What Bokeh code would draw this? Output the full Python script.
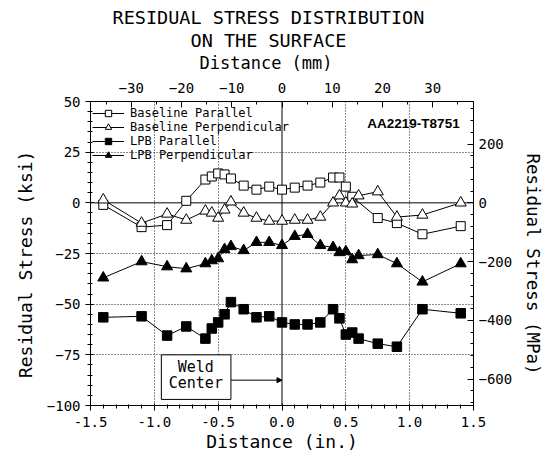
from bokeh.plotting import figure
from bokeh.models import (Range1d, LinearAxis, FixedTicker, Title, Span, Label,
                          BoxAnnotation, Arrow, NormalHead, Legend, LegendItem,
                          PrintfTickFormatter)
from bokeh.embed import file_html
from bokeh.resources import INLINE

MONO = "DejaVu Sans Mono"
NBSP = "\u00a0"

# ---------------- data (inches, ksi) ----------------
bpar_x = [-1.4, -1.1, -0.9, -0.75, -0.6, -0.55, -0.5, -0.45, -0.4, -0.3, -0.2, -0.1,
          0.0, 0.1, 0.2, 0.3, 0.4, 0.45, 0.5, 0.55, 0.75, 0.9, 1.1, 1.4]
bpar_y = [-1, -12, -11, 1, 11.5, 13, 14.5, 14, 12, 8.5, 6.5, 8,
          6.5, 7.5, 8.5, 10, 12.5, 12.5, 8, 3, -7.5, -10, -15.5, -11.5]

bperp_x = [-1.4, -1.1, -0.9, -0.75, -0.6, -0.55, -0.5, -0.45, -0.4, -0.3, -0.2, -0.1,
           0.0, 0.1, 0.2, 0.3, 0.4, 0.45, 0.5, 0.55, 0.6, 0.75, 0.9, 1.1, 1.4]
bperp_y = [1.5, -10, -5.5, -8.5, -4, -5, -7.5, -3.5, 0.5, -5, -7.5, -9,
           -9, -8.5, -8.5, -7, 0, 3.5, 0, -0.5, 3.5, 5.5, -7, -6, 0]

lpar_x = [-1.4, -1.1, -0.9, -0.75, -0.6, -0.55, -0.5, -0.45, -0.4, -0.3, -0.2, -0.1,
          0.0, 0.1, 0.2, 0.3, 0.4, 0.45, 0.5, 0.55, 0.6, 0.75, 0.9, 1.1, 1.4]
lpar_y = [-56.5, -56, -65.5, -61, -67, -62, -59, -55, -49, -52.5, -56.5, -56,
          -59, -60, -60, -59, -52.5, -57, -65, -64, -67, -69.5, -71, -52.5, -54.5]

lperp_x = [-1.4, -1.1, -0.9, -0.75, -0.6, -0.55, -0.5, -0.45, -0.4, -0.3, -0.2, -0.1,
           0.0, 0.1, 0.2, 0.3, 0.4, 0.45, 0.5, 0.55, 0.6, 0.75, 0.9, 1.1, 1.4]
lperp_y = [-37, -29, -31.5, -32.5, -30, -28.5, -27.5, -23, -21.5, -23.5, -19.5, -19.5,
           -21, -16.5, -15.5, -21, -22, -24.5, -24, -28, -26, -25.5, -30, -39, -30]

series_names = ["Baseline Parallel", "Baseline Perpendicular", "LPB Parallel", "LPB Perpendicular"]

x_ticks_in = [-1.5, -1.0, -0.5, 0.0, 0.5, 1.0, 1.5]
y_ticks_ksi = [-100, -75, -50, -25, 0, 25, 50]
x_ticks_mm = [-30, -20, -10, 0, 10, 20, 30]
y_ticks_mpa = [-600, -400, -200, 0, 200]

KSI_TO_MPA = 6.894757
IN_TO_MM = 25.4
X_MIN, X_MAX = -1.5, 1.5
Y_MIN, Y_MAX = -100, 50

# ---------------- figure ----------------
FRAME_H = 306
p = figure(width=551, height=454, x_range=Range1d(X_MIN, X_MAX), y_range=Range1d(Y_MIN, Y_MAX),
           output_backend="svg", toolbar_location=None, title=None,
           min_border_left=90, min_border_right=78, min_border_top=101, min_border_bottom=47)
p.outline_line_color = "black"
p.outline_line_width = 1
p.background_fill_color = "white"
p.border_fill_color = "white"

p.extra_x_ranges = {"mm": Range1d(X_MIN * IN_TO_MM, X_MAX * IN_TO_MM)}
p.extra_y_ranges = {"mpa": Range1d(Y_MIN * KSI_TO_MPA, Y_MAX * KSI_TO_MPA)}

def style_axis(ax, lsize="14px"):
    ax.axis_line_color = "black"
    ax.major_tick_line_color = "black"
    ax.minor_tick_line_color = "black"
    ax.major_label_text_font = MONO
    ax.major_label_text_font_size = lsize
    ax.major_label_text_color = "black"
    ax.axis_label_text_font = MONO
    ax.axis_label_text_font_style = "normal"
    ax.axis_label_text_color = "black"

# bottom axis
bx = p.xaxis[0]
bx.ticker = FixedTicker(ticks=x_ticks_in,
                        minor_ticks=[round(X_MIN + 0.1 * i, 2) for i in range(31)])
bx.formatter = PrintfTickFormatter(format="%.1f")
style_axis(bx)
bx.axis_label = "Distance (in.)"
bx.axis_label_text_font_size = "18px"
bx.major_tick_out = 5
bx.major_tick_in = 2
bx.minor_tick_out = 3
bx.minor_tick_in = 1
bx.major_label_standoff = 6
bx.axis_label_standoff = 1

# left axis
ly = p.yaxis[0]
ly.ticker = FixedTicker(ticks=y_ticks_ksi, minor_ticks=list(range(-100, 51, 5)))
style_axis(ly)
ly.axis_label = "Residual Stress (ksi)" + NBSP * 2
ly.axis_label_text_font_size = "18px"
ly.major_tick_out = 5
ly.major_tick_in = 3
ly.minor_tick_out = 3
ly.minor_tick_in = 2
ly.major_label_standoff = 5
ly.axis_label_standoff = 8

# top axis (mm)
tx = LinearAxis(x_range_name="mm",
                ticker=FixedTicker(ticks=x_ticks_mm, minor_ticks=list(range(-35, 36, 5))))
style_axis(tx)
tx.major_tick_out = 0
tx.major_tick_in = 6
tx.minor_tick_out = 0
tx.minor_tick_in = 3
tx.major_label_standoff = 9
p.add_layout(tx, "above")

# right axis (MPa)
ry = LinearAxis(y_range_name="mpa",
                ticker=FixedTicker(ticks=y_ticks_mpa, minor_ticks=list(range(-680, 345, 40))))
style_axis(ry)
ry.axis_label = NBSP * 2 + "Residual Stress (MPa)"
ry.axis_label_text_font_size = "17.5px"
ry.major_tick_out = 0
ry.major_tick_in = 6
ry.minor_tick_out = 0
ry.minor_tick_in = 3
ry.major_label_standoff = 5
ry.axis_label_standoff = 8
p.add_layout(ry, "right")

# titles (added nearest-first)
def mk_title(text, size, offset, standoff):
    return Title(text=text, align="left", offset=offset, text_font=MONO,
                 text_font_size=size, text_font_style="normal", text_color="black",
                 standoff=standoff)

p.add_layout(mk_title(" ", "1px", 0, 4), "above")  # small spacer
p.add_layout(mk_title("Distance (mm)", "17px", 109, 0), "above")
p.add_layout(mk_title("ON THE SURFACE", "18.5px", 100, 0), "above")
p.add_layout(mk_title("RESIDUAL STRESS DISTRIBUTION", "18.5px", 22, 0), "above")

# grid
p.xgrid.ticker = FixedTicker(ticks=[-1.0, -0.5, 0.5, 1.0])
p.ygrid.ticker = FixedTicker(ticks=[-75, -50, -25, 25])
for g in (p.xgrid, p.ygrid):
    g.grid_line_color = "black"
    g.grid_line_dash = "1 2"
    g.grid_line_width = 1
    g.grid_line_alpha = 0.9

p.add_layout(Span(location=0, dimension="height", line_color="black", line_width=1, level="underlay"))
p.add_layout(Span(location=0, dimension="width", line_color="black", line_width=1, level="underlay"))

# series
specs = [
    (bpar_x, bpar_y, "square", 9, "white"),
    (bperp_x, bperp_y, "triangle", 11, "white"),
    (lpar_x, lpar_y, "square", 9.5, "black"),
    (lperp_x, lperp_y, "triangle", 11, "black"),
]
ITEM_H = 14
LEGEND_ROWS = [15.0, 29.0, 43.0, 57.0]  # px below frame top (layout offsets)
for name, (xs, ys, mk, sz, fc), rc in zip(series_names, specs, LEGEND_ROWS):
    ln = p.line(xs, ys, line_color="black", line_width=1)
    sc = p.scatter(xs, ys, marker=mk, size=sz, fill_color=fc, line_color="black", line_width=1)
    lg = Legend(items=[LegendItem(label=name, renderers=[ln, sc])],
                location=(2, FRAME_H - rc - ITEM_H / 2),
                background_fill_alpha=0, border_line_alpha=0,
                label_text_font=MONO, label_text_font_size="12px", label_text_color="black",
                glyph_width=32, glyph_height=16, label_height=ITEM_H,
                spacing=0, padding=0, margin=0, label_standoff=6)
    p.add_layout(lg)

# annotations
p.add_layout(Label(x=1.03, y=39.2, text="AA2219-T8751", text_align="center",
                   text_baseline="middle", text_font="Liberation Sans",
                   text_font_style="bold", text_font_size="13.5px", text_color="black"))

BOX = dict(left=-0.945, right=-0.40, top=-75.0, bottom=-97.0)
p.add_layout(BoxAnnotation(left=BOX["left"], right=BOX["right"], top=BOX["top"], bottom=BOX["bottom"],
                           fill_color="white", fill_alpha=1.0, line_color="black", line_width=1,
                           line_alpha=1.0))
p.add_layout(Label(x=-0.675, y=-80.9, text="Weld", text_align="center", text_baseline="middle",
                   text_font=MONO, text_font_size="15px", text_color="black"))
p.add_layout(Label(x=-0.675, y=-89.1, text="Center", text_align="center", text_baseline="middle",
                   text_font=MONO, text_font_size="15px", text_color="black"))
p.add_layout(Arrow(end=NormalHead(size=5, fill_color="black", line_color="black"),
                   x_start=BOX["right"], y_start=-87.5, x_end=0.0, y_end=-87.5,
                   line_color="black", line_width=1))

open("out.html", "w").write(file_html(p, INLINE))
